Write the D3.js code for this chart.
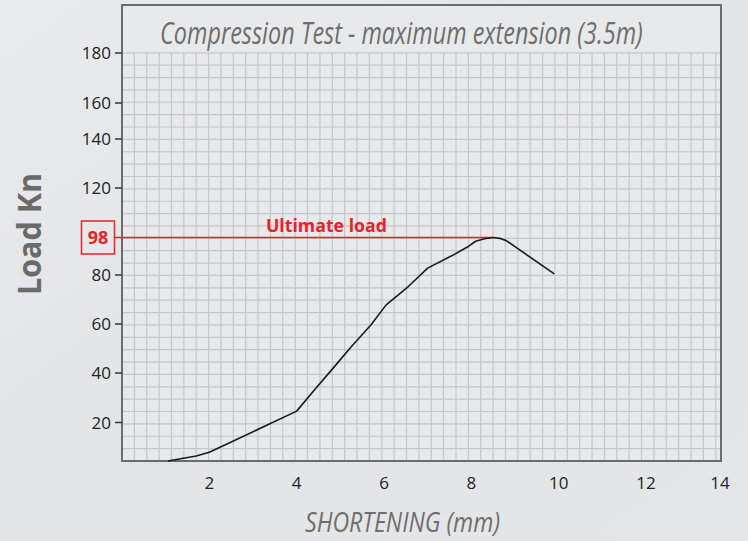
<!DOCTYPE html>
<html>
<head>
<meta charset="utf-8">
<script src="https://cdn.jsdelivr.net/npm/d3@7"></script>
<style>
  html, body { margin: 0; padding: 0; background: #e4e5e6; }
  svg { display: block; font-family: "Open Sans", "Noto Sans", sans-serif; }
</style>
</head>
<body>
<div id="chart"></div>
<script>
// data
const shortening = [1.05, 1.7, 2.0, 4.0, 4.4, 4.85, 5.25, 5.7, 6.05, 6.55, 7.0, 7.55, 7.9, 8.1, 8.3, 8.5, 8.65, 8.8, 9.9];
const load       = [0,    2.6, 4.5, 24.6, 33, 42.3, 50.7, 59.6, 67.8, 75.2, 83.3, 89.2, 93.3, 96.2, 97.4, 98, 97.6, 96.5, 80.5];
const xTicks = [2, 4, 6, 8, 10, 12, 14];
const yTicks = [20, 40, 60, 80, 120, 140, 160, 180];
const ultimateLoad = 98;
const ultimateLabel = "Ultimate load";
const title = "Compression Test - maximum extension (3.5m)";
const xTitle = "SHORTENING (mm)";
const yTitle = "Load Kn";

// squeeze a text horizontally so it fills the given width (condensed look)
function fitText(sel, width) {
    let natural = sel.node().getComputedTextLength();
    sel.attr("transform", (sel.attr("transform") || "") + " scale(" + (width / natural) + ",1)");
}

function render_chart(div) {
    let w = 748, h = 541;
    let left = 122, right = 721, top = 5, gridTop = 53, bottom = 461;
    let cell = 12.37;

    let svg = d3.select("#" + div)
        .append("svg")
        .attr("width", w)
        .attr("height", h);

    let defs = svg.append("defs");
    let grad = defs.append("linearGradient")
        .attr("id", "bg")
        .attr("x1", 0).attr("y1", 0).attr("x2", 1).attr("y2", 1);
    grad.append("stop").attr("offset", "0%").attr("stop-color", "#e9eaeb");
    grad.append("stop").attr("offset", "50%").attr("stop-color", "#e3e4e5");
    grad.append("stop").attr("offset", "100%").attr("stop-color", "#e5e6e7");
    svg.append("rect")
        .attr("width", w).attr("height", h)
        .attr("fill", "url(#bg)");

    // the original chart's axes are not evenly spaced, so the scales use breakpoints
    let x = d3.scaleLinear()
        .domain([0, 12, 14])
        .range([left, 646, 720]);
    let y = d3.scaleLinear()
        .domain([0, 20, 40, 60, 80, 98, 120, 140, 160, 180])
        .range([bottom, 422.5, 373, 324, 275, 237.5, 188, 139, 103, gridTop]);

    // plot panel
    svg.append("rect")
        .attr("x", left).attr("y", top)
        .attr("width", right - left).attr("height", bottom - top)
        .attr("fill", "#e8e9ea");

    // square graph-paper grid
    let grid = svg.append("g")
        .attr("stroke", "#c6c6c6")
        .attr("stroke-width", 1.2);
    grid.selectAll(".v")
        .data(d3.range(1, Math.floor((right - left) / cell) + 1))
        .enter()
        .append("line")
        .attr("x1", function (k) { return left + k * cell; })
        .attr("x2", function (k) { return left + k * cell; })
        .attr("y1", gridTop)
        .attr("y2", bottom);
    grid.selectAll(".h")
        .data(d3.range(0, Math.round((bottom - gridTop) / cell)))
        .enter()
        .append("line")
        .attr("x1", left)
        .attr("x2", right)
        .attr("y1", function (k) { return bottom - (k + 1) * cell; })
        .attr("y2", function (k) { return bottom - (k + 1) * cell; });

    // frame
    svg.append("rect")
        .attr("x", left).attr("y", top)
        .attr("width", right - left).attr("height", bottom - top)
        .attr("fill", "none")
        .attr("stroke", "#6b6b6b")
        .attr("stroke-width", 2);

    // y ticks
    let yt = svg.append("g").selectAll("g")
        .data(yTicks)
        .enter()
        .append("g")
        .attr("transform", function (d) { return "translate(0," + y(d) + ")"; });
    yt.append("line")
        .attr("x1", 115).attr("x2", left)
        .attr("stroke", "#333")
        .attr("stroke-width", 1.5);
    yt.append("text")
        .attr("x", 111)
        .attr("dy", "0.36em")
        .attr("text-anchor", "end")
        .style("font-size", "17px")
        .style("fill", "#222")
        .text(function (d) { return d; });

    // x tick labels
    svg.append("g").selectAll("text")
        .data(xTicks)
        .enter()
        .append("text")
        .attr("x", function (d) { return x(d); })
        .attr("y", 489)
        .attr("text-anchor", "middle")
        .style("font-size", "17px")
        .style("fill", "#222")
        .text(function (d) { return d; });

    // ultimate load marker
    let peakIndex = load.indexOf(ultimateLoad);
    svg.append("line")
        .attr("x1", 115)
        .attr("x2", x(shortening[peakIndex]) - 1)
        .attr("y1", y(ultimateLoad))
        .attr("y2", y(ultimateLoad))
        .attr("stroke", "#e8222b")
        .attr("stroke-width", 1.7);
    svg.append("rect")
        .attr("x", 81.5).attr("y", y(ultimateLoad) - 16.5)
        .attr("width", 33).attr("height", 33)
        .attr("fill", "none")
        .attr("stroke", "#e8222b")
        .attr("stroke-width", 1.5);
    svg.append("text")
        .attr("x", 98)
        .attr("y", y(ultimateLoad))
        .attr("dy", "0.36em")
        .attr("text-anchor", "middle")
        .style("font-size", "18px")
        .style("font-weight", "bold")
        .style("fill", "#e8222b")
        .text(ultimateLoad);
    let ul = svg.append("text")
        .attr("transform", "translate(266,231.5)")
        .style("font-size", "18.5px")
        .style("font-weight", "bold")
        .style("fill", "#e8222b")
        .text(ultimateLabel);
    fitText(ul, 121);

    // load curve
    let line = d3.line()
        .x(function (d) { return x(d[0]); })
        .y(function (d) { return y(d[1]); });
    svg.append("path")
        .datum(d3.zip(shortening, load))
        .attr("d", line)
        .attr("fill", "none")
        .attr("stroke", "#1a1a1a")
        .attr("stroke-width", 1.6)
        .attr("stroke-linejoin", "round");

    // titles
    let t = svg.append("text")
        .attr("transform", "translate(160,43.5)")
        .style("font-size", "31px")
        .style("font-style", "italic")
        .style("fill", "#6e6e6e")
        .text(title);
    fitText(t, 483);
    let xt = svg.append("text")
        .attr("transform", "translate(305,532)")
        .style("font-size", "28px")
        .style("font-style", "italic")
        .style("fill", "#6e6e6e")
        .text(xTitle);
    fitText(xt, 195);
    let ytl = svg.append("text")
        .attr("transform", "translate(40.5,295) rotate(-90)")
        .style("font-size", "33px")
        .style("font-weight", "bold")
        .style("fill", "#6a6a6a")
        .text(yTitle);
    fitText(ytl, 122);
}

render_chart("chart");
</script>
</body>
</html>
